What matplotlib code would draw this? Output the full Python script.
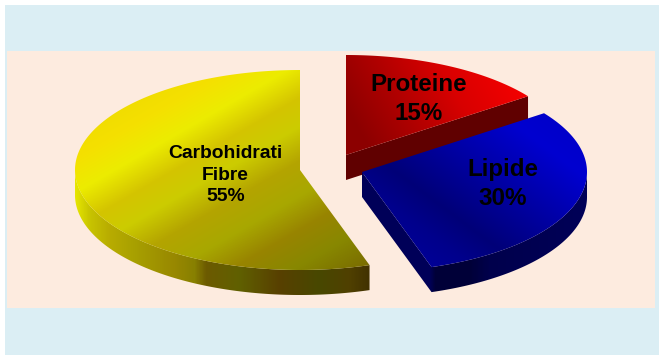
import numpy as np
import matplotlib
matplotlib.use('Agg')
import matplotlib.pyplot as plt
from matplotlib.colors import LinearSegmentedColormap
from matplotlib.patches import Rectangle, Polygon

plt.rcParams['font.family'] = ['Liberation Sans', 'DejaVu Sans']

# data
names = ['Carbohidrati\nFibre', 'Proteine', 'Lipide']
shares = [55, 15, 30]
start_angle = 90

# look
centers = [(300, 170), (346, 155), (362, 172)]
rx = 225
ry = 100
depth = 25
font_sizes = [13.9, 17.4, 17.4]
line_space = [1.36, 1.33, 1.33]
label_pos = [(225.5, 175), (419, 99), (503, 184)]

# gradient of top face: normal direction, then (t, colour) stops
top_dirs = [(0.5, 0.866), (0.85, -0.5), (0.6, -0.8)]
top_stops = [
    [(150, '#f0dc00'), (175, '#f5e000'), (205, '#ecec00'), (235, '#d4c400'), (260, '#cccc00'),
     (290, '#b4a400'), (320, '#a8a800'), (350, '#988400'), (380, '#888800'), (420, '#786800')],
    [(240, '#8c0000'), (290, '#b00000'), (340, '#d80000'), (400, '#f40000'), (430, '#ff0000')],
    [(40, '#000098'), (70, '#00008c'), (100, '#000078'), (130, '#000090'),
     (170, '#0000b0'), (210, '#0000d0'), (245, '#0000c8')],
]
# side wall, left to right in pixels
side_stops = [
    [(75, '#e8e800'), (90, '#c8c400'), (110, '#b8ac00'), (135, '#a8a000'), (175, '#988800'),
     (195, '#888000'), (207, '#6c5a00'), (240, '#606000'), (280, '#584000'), (320, '#484800'),
     (350, '#504000'), (372, '#403000')],
    [(340, '#600000'), (535, '#600000')],
    [(355, '#000058'), (430, '#000058'), (436, '#000038'), (470, '#000038'), (490, '#00004c'),
     (590, '#000058')],
]


def make_cmap(stops):
    lo, hi = stops[0][0], stops[-1][0]
    return LinearSegmentedColormap.from_list('g', [((t - lo) / (hi - lo), c) for t, c in stops], N=512), lo, hi


def fill_gradient(ax, poly_pts, direction, stops, z):
    cmap, lo, hi = make_cmap(stops)
    xs, ys = np.meshgrid(np.arange(0, 665), np.arange(0, 361))
    t = xs * direction[0] + ys * direction[1]
    im = ax.imshow(t, cmap=cmap, vmin=lo, vmax=hi, extent=(-0.5, 664.5, 360.5, -0.5),
                   interpolation='nearest', aspect='auto', zorder=z)
    clip = Polygon(poly_pts, closed=True, transform=ax.transData, fc='none', ec='none')
    ax.add_patch(clip)
    im.set_clip_path(clip)


def arc(cx, cy, a0, a1, dy=0):
    a = np.radians(np.linspace(a0, a1, 200))
    return np.column_stack([cx + rx * np.cos(a), cy - ry * np.sin(a) + dy])


fig = plt.figure(figsize=(6.64, 3.6), dpi=100, facecolor='white')
ax = fig.add_axes([0, 0, 1, 1])
ax.add_patch(Rectangle((5, 5), 654, 350, fc='#dbeef4', ec='none', zorder=0))
ax.add_patch(Rectangle((7, 51), 648, 257, fc='#fdebdf', ec='none', zorder=1))

# first slice runs counter clockwise from the top, the others clockwise
spans = [(start_angle, start_angle + shares[0] * 3.6),
         (start_angle - shares[1] * 3.6, start_angle),
         (start_angle - (shares[1] + shares[2]) * 3.6, start_angle - shares[1] * 3.6)]

for i, share in enumerate(shares):
    a0, a1 = spans[i]
    cx, cy = centers[i]
    z = 2 + i * 3

    # side wall, only the part facing the viewer
    if i == 0:
        wall = np.vstack([arc(cx, cy, 180, a1), arc(cx, cy, 180, a1, depth)[::-1]])
    elif i == 1:
        p = arc(cx, cy, a0, a0)[0]
        wall = np.array([[cx, cy], p, p + [0, depth], [cx, cy + depth]])
    else:
        wall = np.vstack([[[cx, cy]], arc(cx, cy, a0, 0), arc(cx, cy, a0, 0, depth)[::-1], [[cx, cy + depth]]])
    fill_gradient(ax, wall, (1, 0), side_stops[i], z)

    # top face
    top = np.vstack([[[cx, cy]], arc(cx, cy, a0, a1)])
    fill_gradient(ax, top, top_dirs[i], top_stops[i], z + 1)

    ax.text(label_pos[i][0], label_pos[i][1], f'{names[i]}\n{share}%', ha='center', va='center',
            fontsize=font_sizes[i], fontweight='bold', color='black', linespacing=line_space[i], zorder=20)

ax.set_xlim(0, 664)
ax.set_ylim(360, 0)
ax.axis('off')
fig.savefig('out.png', dpi=100)
